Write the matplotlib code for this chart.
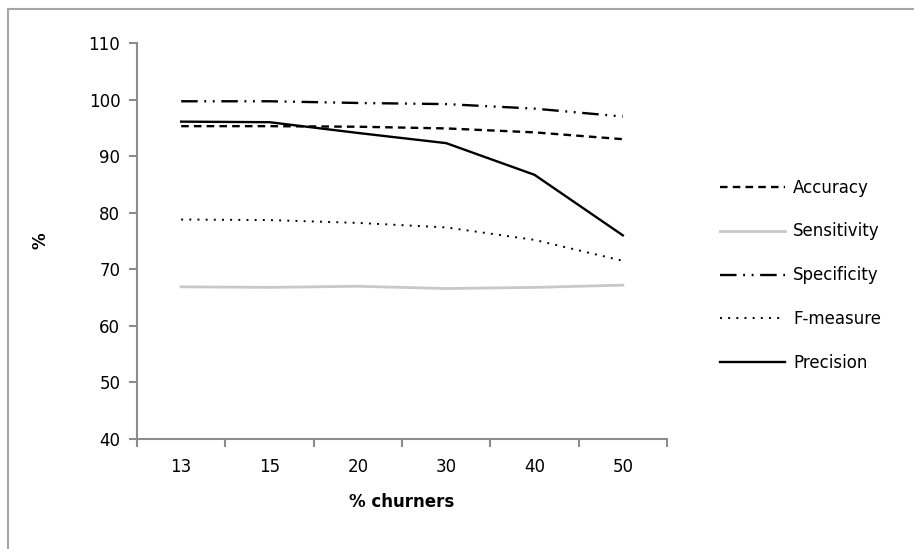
import numpy as np
import matplotlib
matplotlib.use("Agg")
import matplotlib.pyplot as plt
from matplotlib.patches import Rectangle

# ---- data ----
churners = ["13", "15", "20", "30", "40", "50"]
accuracy = [95.3, 95.3, 95.2, 94.9, 94.2, 93.0]
sensitivity = [66.9, 66.8, 67.0, 66.6, 66.8, 67.2]
specificity = [99.7, 99.7, 99.4, 99.2, 98.4, 97.0]
f_measure = [78.8, 78.7, 78.2, 77.4, 75.2, 71.5]
precision = [96.1, 96.0, 94.1, 92.3, 86.7, 76.0]

plt.rcParams['font.family'] = ['DejaVu Sans']
axis_grey = "#8c8c8c"

fig = plt.figure(figsize=(9.14, 5.49), dpi=100)
ax = fig.add_axes([137/914, 1 - 439/549, 530/914, 396/549])

x = np.arange(len(churners))
ax.plot(x, accuracy, color="black", lw=1.7, ls=(0, (3.2, 2.2)), label="Accuracy")
ax.plot(x, sensitivity, color="#c8c8c8", lw=2.0, label="Sensitivity")
ax.plot(x, specificity, color="black", lw=1.7, ls=(0, (7.0, 2.8, 0.8, 2.8, 0.8, 2.8)), label="Specificity")
ax.plot(x, f_measure, color="black", lw=1.4, ls=(0, (1, 3.2)), label="F-measure")
ax.plot(x, precision, color="black", lw=1.7, label="Precision")

# ---- axes ----
ax.set_xlim(-0.5, len(churners) - 0.5)
ax.set_ylim(40, 110)
ax.set_yticks(range(40, 111, 10))
ax.set_xticks(np.arange(-0.5, len(churners), 1.0))
ax.set_xticklabels([])
ax.set_xticks(x, minor=True)
ax.set_xticklabels(churners, minor=True)
ax.tick_params(axis="x", which="minor", length=0, pad=14, labelsize=12)
ax.tick_params(axis="x", which="major", length=6, width=1.5, color=axis_grey, direction="out")
ax.tick_params(axis="y", length=6, width=1.5, color=axis_grey, direction="out", pad=6, labelsize=12)

for side in ["top", "right"]:
    ax.spines[side].set_visible(False)
for side in ["left", "bottom"]:
    ax.spines[side].set_color(axis_grey)
    ax.spines[side].set_linewidth(1.5)

ax.set_xlabel("% churners", fontsize=12, fontweight="bold", labelpad=12)
ax.set_ylabel("%", fontsize=12, fontweight="bold", labelpad=28)

ax.legend(loc="upper left", bbox_to_anchor=(713/914, 1 - 172/549), bbox_transform=fig.transFigure,
          frameon=False, fontsize=12, handlelength=3.9, handletextpad=0.5, labelspacing=1.55,
          borderaxespad=0)

# outer chart border (only top and left visible in the reference)
fig.patches.append(Rectangle((8/914, -0.1), 2, 1.1 - 9/549, transform=fig.transFigure,
                             fill=False, edgecolor="#a6a6a6", lw=1.5))

fig.savefig("out.png", dpi=100)
